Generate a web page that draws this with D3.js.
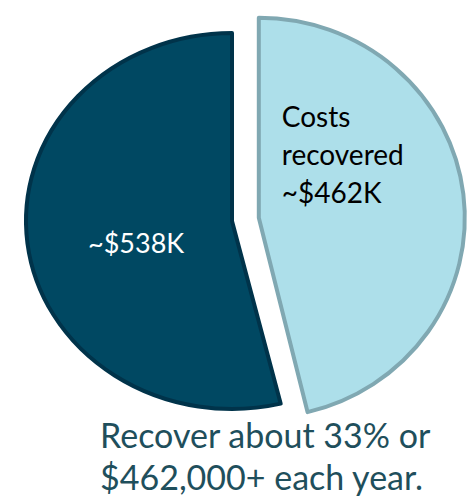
<!DOCTYPE html>
<html>
<head>
<meta charset="utf-8">
<script src="https://cdn.jsdelivr.net/npm/d3@7"></script>
<style>
  html, body { margin: 0; padding: 0; background: #ffffff; }
  svg { display: block; }
</style>
</head>
<body>
<svg id="chart" width="472" height="502"></svg>
<script>
// Annual cost split (thousands of dollars)
const categories = ["Costs recovered", "Remaining"];
const values = [462, 538];
const sliceLabels = [["Costs", "recovered", "~$462K"], ["~$538K"]];
const captionLines = ["Recover about 33% or", "$462,000+ each year."];

const fills = ["#addfea", "#004862"];
const strokes = ["#80a8b2", "#00334a"];
const textColors = ["#000000", "#ffffff"];

const svg = d3.select("#chart");
const cx = 232, cy = 221;   // pie centre
const rx = 206;             // horizontal radius (pie is slightly wide)
const ry = [200, 188];      // vertical radius per slice
const explode = [27, 0];    // offset of each slice along its mid-angle

const pie = d3.pie().sort(null).value(d => d)(values);

const g = svg.append("g").attr("transform", `translate(${cx},${cy})`);

function offset(p, i) {
  const mid = (p.startAngle + p.endAngle) / 2;
  return [Math.sin(mid) * explode[i], -Math.cos(mid) * explode[i]];
}

pie.forEach((p, i) => {
  const [dx, dy] = offset(p, i);
  const arc = d3.arc().innerRadius(0).outerRadius(ry[i]);
  g.append("g")
    .attr("transform", `translate(${dx},${dy}) scale(${rx / ry[i]},1)`)
    .append("path")
    .attr("d", arc(p))
    .attr("fill", fills[i])
    .attr("stroke", strokes[i])
    .attr("stroke-width", 4)
    .attr("stroke-linejoin", "round")
    .attr("vector-effect", "non-scaling-stroke");
});

// Slice labels, placed inside each slice
const labelPos = [[23, -91], [-144, 32]];
const labelSize = [28, 27];
pie.forEach((p, i) => {
  const [dx, dy] = offset(p, i);
  const t = g.append("text")
    .attr("x", labelPos[i][0] + dx)
    .attr("y", labelPos[i][1] + dy)
    .attr("fill", textColors[i])
    .attr("font-family", "Lato, 'Open Sans', sans-serif")
    .attr("font-size", labelSize[i]);
  sliceLabels[i].forEach((line, k) => {
    t.append("tspan")
      .attr("x", labelPos[i][0] + dx)
      .attr("dy", k === 0 ? 0 : 38)
      .text(line);
  });
});

// Caption under the pie
const cap = svg.append("text")
  .attr("x", 100)
  .attr("y", 448)
  .attr("fill", "#1f4f5c")
  .attr("font-family", "Lato, 'Open Sans', sans-serif")
  .attr("font-size", 34);
captionLines.forEach((line, k) => {
  cap.append("tspan")
    .attr("x", 100)
    .attr("dy", k === 0 ? 0 : 42)
    .text(line);
});
</script>
</body>
</html>
